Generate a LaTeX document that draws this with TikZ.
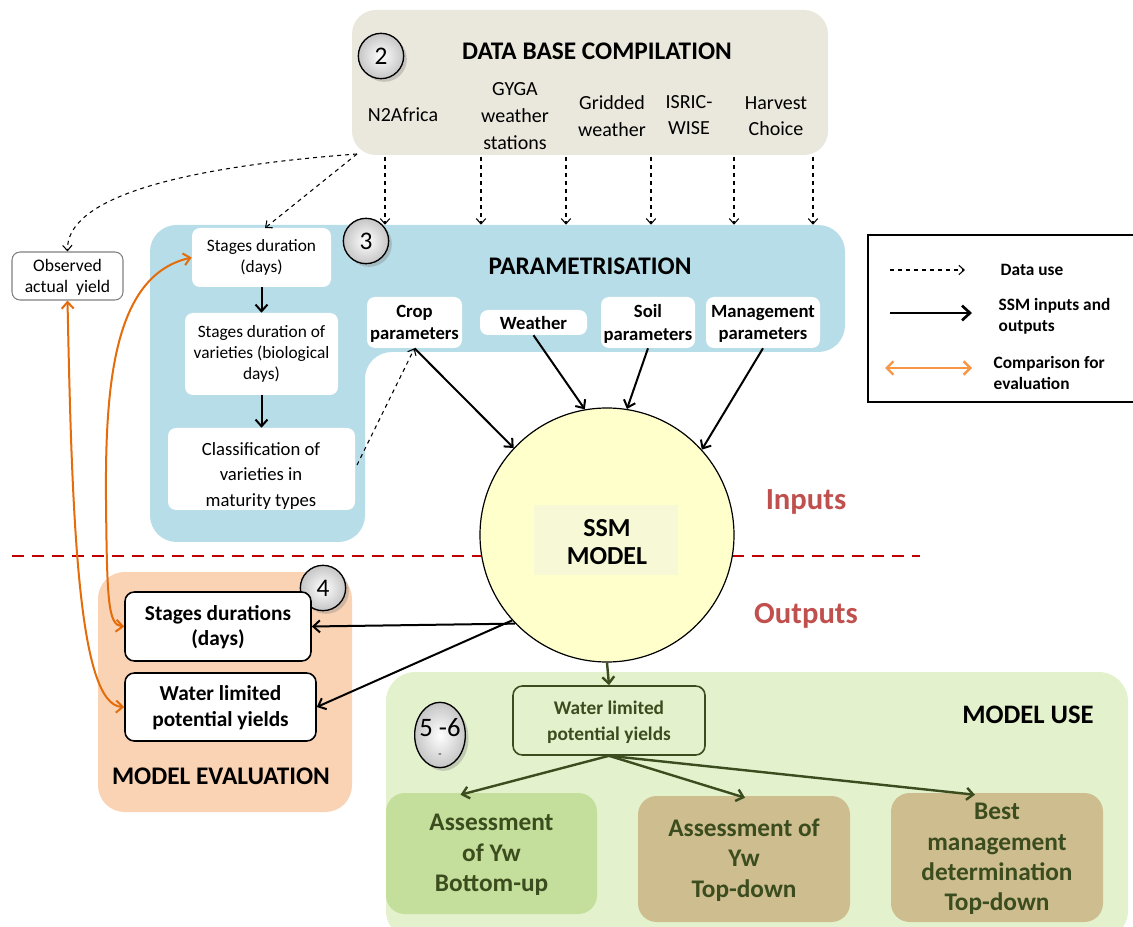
\documentclass[tikz,border=0pt]{standalone}
\usepackage{fontspec}
\setmainfont{Carlito}
\usetikzlibrary{fit,arrows.meta,shadows,calc,shapes.geometric}
\definecolor{dbfill}{HTML}{EAE7DC}
\definecolor{parfill}{HTML}{B7DDE8}
\definecolor{evfill}{HTML}{FAD3B5}
\definecolor{usefill}{HTML}{E3F1CD}
\definecolor{bufill}{HTML}{C4DF9B}
\definecolor{tdfill}{HTML}{CDBD8F}
\definecolor{dkgreen}{HTML}{3B4C1E}
\definecolor{orangeA}{HTML}{E46C0A}
\definecolor{orangeL}{HTML}{F79646}
\definecolor{redL}{HTML}{C00000}
\definecolor{ioText}{HTML}{C0504D}
\definecolor{ssmfill}{HTML}{FFFFCC}
\definecolor{ssminner}{HTML}{F6F8D6}
\newcommand{\fsz}[1]{\fontsize{#1}{1.2\dimexpr #1pt\relax}\selectfont}
\begin{document}
\begin{tikzpicture}[x=0.75pt,y=-0.75pt,
  whitebox/.style={fill=white, rounded corners=6pt, inner sep=0pt},
  evbox/.style={fill=white, draw=black, line width=1.2pt, rounded corners=7pt, inner sep=0pt},
  evtext/.style={align=center, font=\fsz{16}\bfseries},
  usebox/.style={rounded corners=14pt, inner sep=0pt},
  usetext/.style={align=center, font=\fsz{19}\bfseries, text=dkgreen},
  numcirc/.style={circle, draw=black, line width=1pt, inner color=white, outer color=gray!45, minimum size=34pt, inner sep=0pt, font=\fsz{19}, drop shadow={opacity=0.35}},
  datause/.style={dashed, line width=0.8pt, -{Straight Barb[length=4pt,width=7pt]}},
  ssmarrow/.style={line width=1.5pt, -{Straight Barb[length=5pt,width=9pt]}},
  greenarrow/.style={draw=dkgreen, line width=1.8pt, -{Straight Barb[length=5pt,width=9pt]}},
  cmp/.style={draw=orangeA, line width=1.5pt, {Straight Barb[length=5pt,width=9pt]}-{Straight Barb[length=5pt,width=9pt]}},
]
\useasboundingbox (0,0) rectangle (1133,927);

% ---------------- background panels
\node[fill=dbfill, rounded corners=18pt, inner sep=0pt, fit={(352,10) (828,155)}] (db) {};
\fill[parfill, rounded corners=20pt] (150,225) -- (845,225) -- (845,352) -- (365,352) -- (365,542) -- (150,542) -- cycle;
\node[inner sep=0pt, fit={(150,225) (845,352)}] (paramtop) {};
\node[fill=evfill, rounded corners=20pt, inner sep=0pt, fit={(98,572) (352,812)}] (evbg) {};
\node[fill=usefill, rounded corners=22pt, inner sep=0pt, fit={(386,672) (1128,940)}] (usebg) {};

% ---------------- red separator
\draw[redL, line width=1.6pt, dash pattern=on 9pt off 6pt] (12,556) -- (920,556);

% ---------------- data base compilation
\node[font=\fsz{19}\bfseries] (dbt) at (597,51) {DATA BASE COMPILATION};
\node[numcirc] (n2) at (381,56) {2};
\node[font=\fsz{15}] (s1) at (403,115) {N2Africa};
\node[font=\fsz{15}, align=center] (s2) at (515,116) {GYGA\\[2pt]weather\\[2pt]stations};
\node[font=\fsz{15}, align=center] (s3) at (612,116) {Gridded\\[2pt]weather};
\node[font=\fsz{15}, align=center] (s4) at (689,115) {ISRIC-\\[2pt]WISE};
\node[font=\fsz{15}, align=center] (s5) at (776,116) {Harvest\\[2pt]Choice};
\foreach \i/\x in {1/385,2/481,3/566,4/651,5/734,6/813}{
  \coordinate (d\i) at (\x,157);
  \draw[datause] (d\i) -- (d\i |- paramtop.north);
}

% ---------------- parametrisation
\node[numcirc] (n3) at (366,241) {3};
\node[font=\fsz{19}\bfseries] (part) at (590,266) {PARAMETRISATION};
\node[whitebox, fit={(192,228) (331,287)}] (sd) {};
\node[font=\fsz{13}, align=center] (sdT) at (261.5,257) {Stages duration\\(days)};
\node[whitebox, fit={(185,313) (338,395)}] (sv) {};
\node[font=\fsz{13}, align=center] (svT) at (261.5,354) {Stages duration of\\varieties (biological\\days)};
\node[whitebox, fit={(168,428) (355,510)}] (cl) {};
\begin{scope}
  \clip[rounded corners=6pt] (168,428) rectangle (355,510);
  \node[font=\fsz{14}, align=center] (clt) at (261,476) {Classification of\\[2pt]varieties in\\[2pt]maturity types};
\end{scope}
\node[whitebox, fit={(367,297) (462,348)}] (crop) {};
\node[font=\fsz{14}\bfseries, align=center] (cropT) at (414.5,324) {Crop\\parameters};
\node[whitebox, fit={(480,310) (587,335)}] (wea) {};
\node[font=\fsz{14}\bfseries] (weaT) at (533.5,323) {Weather};
\node[whitebox, fit={(601,297) (695,348)}] (soil) {};
\node[font=\fsz{14}\bfseries, align=center] (soilT) at (648,324) {Soil\\parameters};
\node[whitebox, fit={(706,297) (820,348)}] (mgt) {};
\node[font=\fsz{14}\bfseries, align=center] (mgtT) at (763,324) {Management\\parameters};
\draw[ssmarrow] (sd) -- (sv);
\draw[ssmarrow] (sv) -- (cl);

% ---------------- observed yield
\node[draw=gray, line width=0.8pt, rounded corners=6pt, inner sep=0pt, fit={(12,252) (123,300)}] (obs) {};
\node[font=\fsz{13.2}, align=center] (obsT) at (67.5,277.5) {Observed\\actual~~yield};

% ---------------- SSM model
\node[circle, draw=black, line width=0.9pt, fill=ssmfill, minimum size=190.5pt, inner sep=0pt] (ssm) at (607,535) {};
\node[fill=ssminner, inner sep=0pt, fit={(534,505) (678,575)}] (ssmin) {};
\node[font=\fsz{19.5}\bfseries, align=center] (ssmt) at (607,542) {SSM\\[-2pt]MODEL};
\node[font=\fsz{23}\bfseries, text=ioText] (inp) at (806,502) {Inputs};
\node[font=\fsz{23}\bfseries, text=ioText] (outp) at (806,616) {Outputs};

\draw[ssmarrow] (crop.south) -- (ssm.137);
\draw[ssmarrow] (wea.south) -- (ssm.100);
\draw[ssmarrow] (soil.south) -- (ssm.81);
\draw[ssmarrow] (mgt.south) -- (ssm.42);
\coordinate (clr) at (357,465);
\draw[datause] (clr) -- (crop.south);

% data use from N2Africa
\coordinate (dbsw) at (357,154);
\coordinate (sdtop) at (265,228);
\draw[datause] (dbsw) -- (sdtop);
\draw[datause] (dbsw) .. controls (170,168) and (66,200) .. (obs.north);

% ---------------- model evaluation
\node[numcirc] (n4) at (323,588) {4};
\node[evbox, fit={(125,592) (311,661)}] (ev1) {};
\node[evtext] (ev1T) at (218,627) {Stages durations\\(days)};
\node[evbox, fit={(125,673) (316,741)}] (ev2) {};
\node[evtext] (ev2T) at (220.5,707.5) {Water limited\\potential yields};
\node[font=\fsz{19}\bfseries] (evt) at (221,776) {MODEL EVALUATION};
\draw[ssmarrow] (ssm.224) -- (ev1.east);
\draw[ssmarrow] (ssm.222) -- (ev2.east);

% orange comparison arrows
\draw[cmp] (obs.south) .. controls (72,520) and (78,705) .. (ev2.west);
\draw[cmp] (sd.west) .. controls (115,275) and (105,380) .. (106,500) .. controls (107,600) and (108,625) .. (ev1.west);

% ---------------- model use
\node[font=\fsz{20}\bfseries] (uset) at (1028,715) {MODEL USE};
\node[ellipse, draw=black, line width=1pt, inner color=white, outer color=gray!45, minimum width=38pt, minimum height=49pt, inner sep=0pt, drop shadow={opacity=0.35}] (n56) at (440,735) {};
\node[font=\fsz{20}] (n56t) at (440,728) {5 -6};
\node[font=\fsz{8}] (n56d) at (440,756) {-};
\node[draw=dkgreen, line width=1.2pt, rounded corners=7pt, inner sep=0pt, fit={(513,686) (705,755)}] (wl) {};
\node[font=\fsz{14.5}\bfseries, text=dkgreen, align=center] (wlT) at (609,722) {Water limited\\[2pt]potential yields};
\draw[greenarrow] (ssm.south) -- (wl.north);
\node[usebox, fill=bufill, fit={(386,793) (597,914)}] (b1) {};
\node[usetext] (b1T) at (491.5,855) {Assessment\\of Yw\\Bottom-up};
\node[usebox, fill=tdfill, fit={(638,796) (850,922)}] (b2) {};
\node[usetext] (b2T) at (744,860) {Assessment of\\Yw\\Top-down};
\node[usebox, fill=tdfill, fit={(891,793) (1103,922)}] (b3) {};
\node[usetext] (b3T) at (997,859) {Best\\management\\determination\\Top-down};
\draw[greenarrow] (wl.south) -- ($(b1.north)+(-31,2)$);
\draw[greenarrow] (wl.south) -- ($(b2.north)+(1,2)$);
\draw[greenarrow] (wl.south) -- ($(b3.north)+(-22,2)$);

% ---------------- legend
\draw[line width=1.3pt] (1140,235) -- (868,235) -- (868,402) -- (1140,402);
\coordinate (l1a) at (890,270); \coordinate (l1b) at (965,270);
\draw[datause] (l1a) -- (l1b);
\node[anchor=west, font=\fsz{13}\bfseries] (lt1) at (996,270) {Data use};
\coordinate (l2a) at (890,313); \coordinate (l2b) at (972,313);
\draw[line width=2pt, -{Straight Barb[length=6pt,width=11pt]}] (l2a) -- (l2b);
\node[anchor=west, font=\fsz{13}\bfseries, align=left] (lt2) at (994,316) {SSM inputs and\\outputs};
\coordinate (l3a) at (885,368); \coordinate (l3b) at (972,368);
\draw[draw=orangeL, line width=1.8pt, {Straight Barb[length=5pt,width=10pt]}-{Straight Barb[length=5pt,width=10pt]}] (l3a) -- (l3b);
\node[anchor=west, font=\fsz{13}\bfseries, align=left] (lt3) at (989,373) {Comparison for\\evaluation};
\end{tikzpicture}
\end{document}
